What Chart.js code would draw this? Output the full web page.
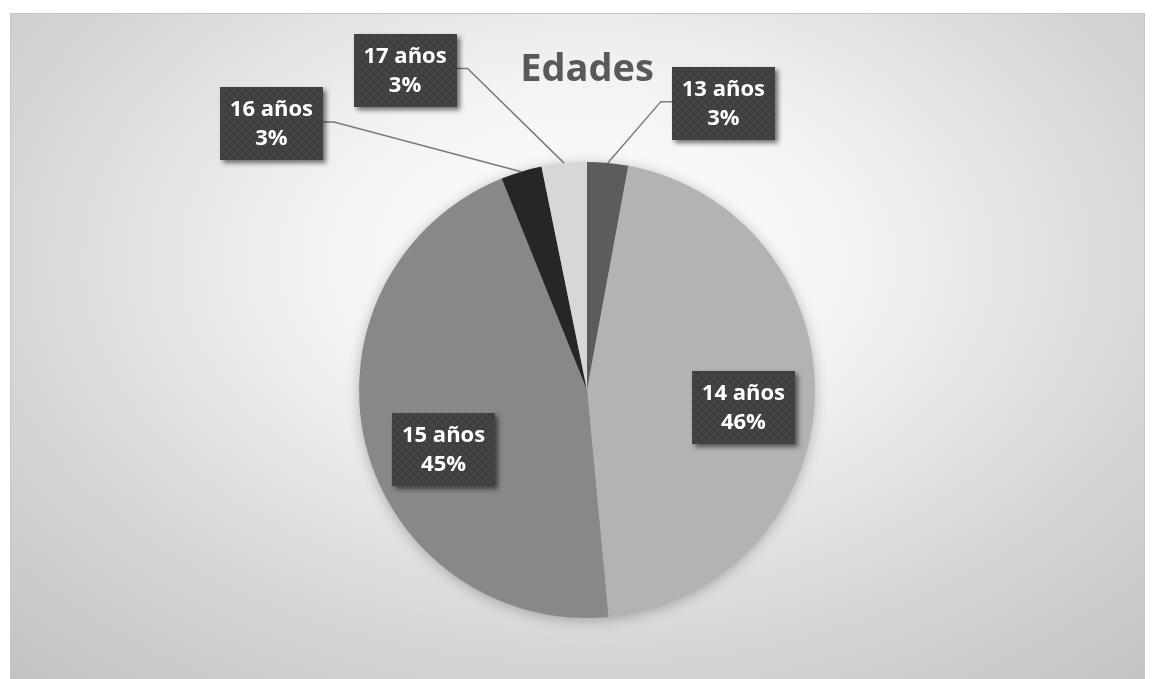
<!DOCTYPE html>
<html>
<head>
<meta charset="utf-8">
<script src="https://cdn.jsdelivr.net/npm/chart.js@4.4.1/dist/chart.umd.min.js"></script>
<style>
	html, body { margin: 0; padding: 0; background: #fff; }
	#ageChart { display: block; }
</style>
</head>
<body>
<canvas id="ageChart" width="1152" height="679"></canvas>
<script>
// data block
const ageLabels = ['13 años', '14 años', '15 años', '16 años', '17 años'];
const ageShares = [2.9, 45.6, 45.4, 2.9, 3.2];
const sliceColors = ['#5c5c5c', '#b3b3b3', '#888888', '#262626', '#d7d7d7'];

// where each label box sits, relative to the pie centre in radius units
// third value: true when the box sits outside and needs a leader line
const labelSpots = [
	[0.598, -1.256, true],
	[0.686, 0.077, false],
	[-0.629, 0.261, false],
	[-1.384, -1.167, true],
	[-0.798, -1.401, true],
];

// dotted fill used by the label boxes
function makeDotPattern(ctx) {
	const tile = document.createElement('canvas');
	tile.width = 8;
	tile.height = 8;
	const t = tile.getContext('2d');
	t.fillStyle = '#404040';
	t.fillRect(0, 0, 8, 8);
	t.fillStyle = '#4b4b4b';
	t.fillRect(1, 1, 2, 2);
	t.fillRect(5, 5, 2, 2);
	return ctx.createPattern(tile, 'repeat');
}

// background + soft shadow under the pie
const backdropPlugin = {
	id: 'backdrop',
	beforeDraw(chart) {
		const ctx = chart.ctx;
		ctx.save();
		ctx.fillStyle = '#ffffff';
		ctx.fillRect(0, 0, chart.width, chart.height);
		ctx.translate(587, 260);
		ctx.scale(1.5, 1);
		const g = ctx.createRadialGradient(0, 0, 0, 0, 0, 600);
		g.addColorStop(0, '#ffffff');
		g.addColorStop(0.3, '#f3f3f3');
		g.addColorStop(0.65, '#d6d6d6');
		g.addColorStop(1, '#bfbfbf');
		ctx.fillStyle = g;
		ctx.fillRect((10 - 587) / 1.5, 13 - 260, 1135 / 1.5, 670);
		ctx.restore();
		ctx.save();
		ctx.strokeStyle = '#c6c6c6';
		ctx.lineWidth = 1;
		ctx.strokeRect(10.5, 13.5, 1134, 670);
		ctx.restore();
	},
	beforeDatasetsDraw(chart) {
		const arc = chart.getDatasetMeta(0).data[0];
		if (!arc) return;
		const ctx = chart.ctx;
		ctx.save();
		ctx.shadowColor = 'rgba(0,0,0,0.3)';
		ctx.shadowBlur = 14;
		ctx.shadowOffsetY = 2;
		ctx.fillStyle = '#999999';
		ctx.beginPath();
		ctx.arc(arc.x, arc.y, arc.outerRadius - 1, 0, Math.PI * 2);
		ctx.fill();
		ctx.restore();
	},
};

// label boxes with leader lines
const labelBoxPlugin = {
	id: 'labelBoxes',
	afterDatasetsDraw(chart, args, opts) {
		const ctx = chart.ctx;
		const meta = chart.getDatasetMeta(0);
		const values = chart.data.datasets[0].data;
		const total = values.reduce((a, b) => a + b, 0);
		const pattern = makeDotPattern(ctx);
		meta.data.forEach((arc, i) => {
			const r = arc.outerRadius;
			const spot = opts.spots[i];
			const cx = arc.x + spot[0] * r;
			const cy = arc.y + spot[1] * r;
			const w = opts.boxWidth;
			const h = opts.boxHeight;

			if (spot[2]) {
				const mid = (arc.startAngle + arc.endAngle) / 2;
				const ax = arc.x + Math.cos(mid) * r;
				const ay = arc.y + Math.sin(mid) * r;
				const side = cx > ax ? -1 : 1;
				const sx = cx + side * w / 2;
				const ly = cy - 2;
				ctx.save();
				ctx.strokeStyle = '#7a7a7a';
				ctx.lineWidth = 1.5;
				ctx.beginPath();
				ctx.moveTo(sx, ly);
				ctx.lineTo(sx + side * opts.stub, ly);
				ctx.lineTo(ax, ay);
				ctx.stroke();
				ctx.restore();
			}

			ctx.save();
			ctx.shadowColor = 'rgba(0,0,0,0.55)';
			ctx.shadowBlur = 5;
			ctx.shadowOffsetX = 3;
			ctx.shadowOffsetY = 3;
			ctx.fillStyle = pattern;
			ctx.fillRect(Math.round(cx - w / 2), Math.round(cy - h / 2), w, h);
			ctx.restore();

			ctx.save();
			ctx.fillStyle = '#ffffff';
			ctx.font = 'bold 22px "Open Sans"';
			ctx.textAlign = 'center';
			ctx.textBaseline = 'middle';
			const pct = Math.round(values[i] / total * 100) + '%';
			ctx.fillText(chart.data.labels[i], cx, cy - 14);
			ctx.fillText(pct, cx, cy + 15);
			ctx.restore();
		});
	},
};

// config block
const config = {
	type: 'pie',
	data: {
		labels: ageLabels,
		datasets: [
			{
				data: ageShares,
				backgroundColor: sliceColors,
				borderWidth: 0,
			},
		],
	},
	options: {
		responsive: false,
		animation: false,
		devicePixelRatio: 1,
		layout: {
			padding: { top: 47, bottom: 61, left: 22, right: 0 },
		},
		plugins: {
			legend: { display: false },
			tooltip: { enabled: false },
			title: {
				display: true,
				text: 'Edades',
				color: '#595959',
				font: { family: 'Open Sans', size: 38, weight: 'bold', lineHeight: 1.2 },
				padding: { top: 0, bottom: 69.4 },
			},
			labelBoxes: {
				spots: labelSpots,
				boxWidth: 103,
				boxHeight: 73,
				stub: 11,
			},
		},
	},
	plugins: [backdropPlugin, labelBoxPlugin],
};

// render / init block
const ageChart = new Chart(document.getElementById('ageChart'), config);
</script>
</body>
</html>
